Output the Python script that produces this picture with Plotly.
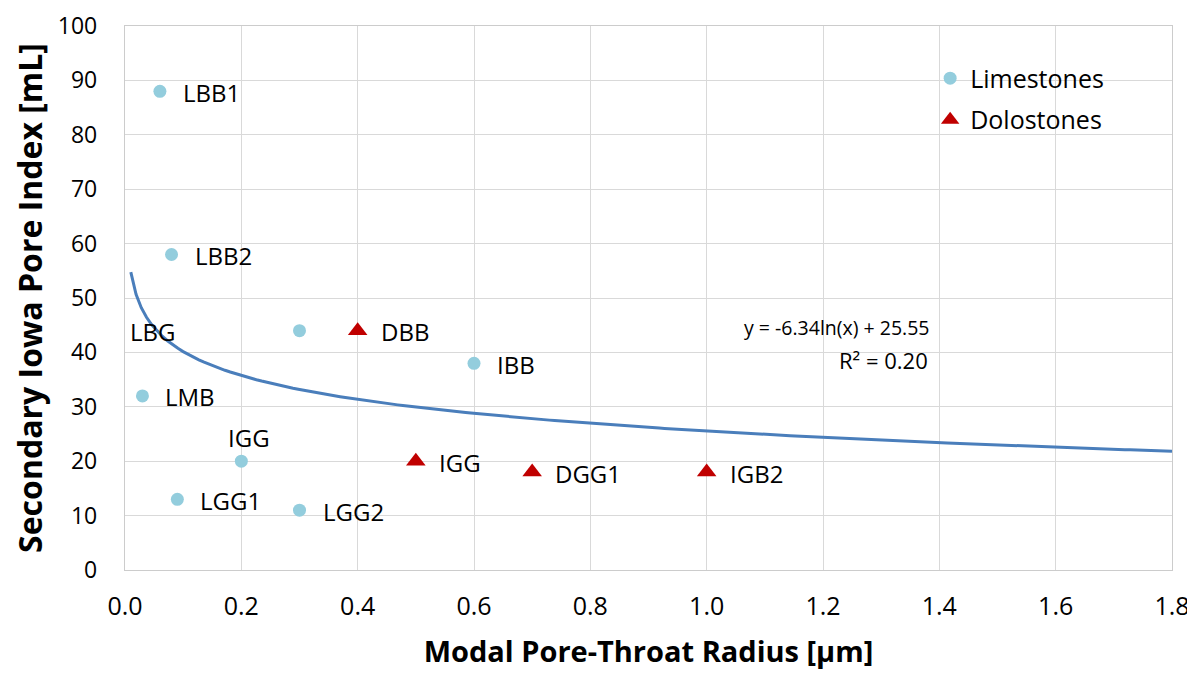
import numpy as np
import plotly.graph_objects as go

# Data
lime_x = [0.06, 0.08, 0.30, 0.03, 0.20, 0.09, 0.30, 0.60]
lime_y = [88, 58, 44, 32, 20, 13, 11, 38]
lime_lbl = ["LBB1", "LBB2", "", "LMB", "IGG", "LGG1", "LGG2", "IBB"]

dolo_x = [0.40, 0.50, 0.70, 1.00]
dolo_y = [44, 20, 18, 18]
dolo_lbl = ["DBB", "IGG", "DGG1", "IGB2"]

# Free-standing label (LBG)
extra_lbl = "LBG"
extra_pos = (0.048, 44)

# Trendline y = a*ln(x) + b
trend_a = -6.34
trend_b = 25.55
trend_x = np.linspace(0.01, 1.8, 200)
trend_y = trend_a * np.log(trend_x) + trend_b
eq_lines = ["y = -6.34ln(x) + 25.55", "R² = 0.20"]

FONT = "Open Sans"
TXT = "#000000"
LBL = dict(size=24, family=FONT, color=TXT)

fig = go.Figure()
fig.add_trace(go.Scatter(
    x=trend_x, y=trend_y, mode="lines",
    line=dict(color="#4A7EBB", width=3),
    showlegend=False, hoverinfo="skip"))
fig.add_trace(go.Scatter(
    x=lime_x, y=lime_y, mode="markers", name="Limestones",
    marker=dict(symbol="circle", size=13, color="#93CDDD"),
    legendgroup="a"))
fig.add_trace(go.Scatter(
    x=dolo_x, y=dolo_y, mode="markers", name="Dolostones",
    marker=dict(symbol="triangle-up", size=17, color="#C00000"),
    legendgroup="b"))

ann = []
for x, y, t in zip(lime_x, lime_y, lime_lbl):
    if not t:
        continue
    if t == "IGG":
        ann.append(dict(x=x, y=y, text=t, showarrow=False, xanchor="center",
                        yanchor="middle", yshift=24, xshift=8, font=LBL))
    else:
        ann.append(dict(x=x, y=y, text=t, showarrow=False, xanchor="left",
                        xshift=21, yshift=-1, font=LBL))
for x, y, t in zip(dolo_x, dolo_y, dolo_lbl):
    ann.append(dict(x=x, y=y, text=t, showarrow=False, xanchor="left",
                    xshift=21, yshift=-1, font=LBL))
ann.append(dict(x=extra_pos[0], y=extra_pos[1], text=extra_lbl, showarrow=False,
                xanchor="center", yshift=-1, font=LBL))
ann.append(dict(x=1.387, y=44.6, text=eq_lines[0], showarrow=False,
                xanchor="right", font=dict(size=19.5, family=FONT, color=TXT)))
ann.append(dict(x=1.384, y=38.6, text=eq_lines[1], showarrow=False,
                xanchor="right", font=dict(size=22, family=FONT, color=TXT)))
fig.update_layout(annotations=ann)

GRID = "#D9D9D9"
fig.update_layout(
    width=1195, height=673,
    margin=dict(l=117, r=31, t=18, b=111),
    paper_bgcolor="white", plot_bgcolor="white",
    font=dict(family=FONT, color=TXT, size=24),
    legend=dict(x=0.769, y=0.946, xanchor="left", yanchor="top",
                bgcolor="rgba(0,0,0,0)", font=dict(size=25, family=FONT, color=TXT),
                tracegroupgap=6, itemwidth=30),
    xaxis=dict(range=[0, 1.8], dtick=0.2, tickformat=".1f",
               showgrid=True, gridcolor=GRID, gridwidth=1.3,
               showline=True, linecolor="#CCCCCC", linewidth=1.3, mirror=True,
               zeroline=False, ticks="", automargin=False,
               ticklabelstandoff=14, ticklabeloverflow="allow",
               tickfont=dict(size=25, family=FONT, color=TXT),
               title=dict(text="<b>Modal Pore-Throat Radius [µm]</b>",
                          font=dict(size=29, family=FONT, color=TXT), standoff=20)),
    yaxis=dict(range=[0, 100], dtick=10,
               showgrid=True, gridcolor=GRID, gridwidth=1.3,
               showline=True, linecolor="#CCCCCC", linewidth=1.3, mirror=True,
               zeroline=False, ticks="", automargin=False,
               ticklabelstandoff=22, ticklabeloverflow="allow",
               tickfont=dict(size=23, family=FONT, color=TXT),
               title=dict(text="<b>Secondary Iowa Pore Index [mL]</b>",
                          font=dict(size=32, family=FONT, color=TXT), standoff=8)),
)

fig.write_html("out.html")
